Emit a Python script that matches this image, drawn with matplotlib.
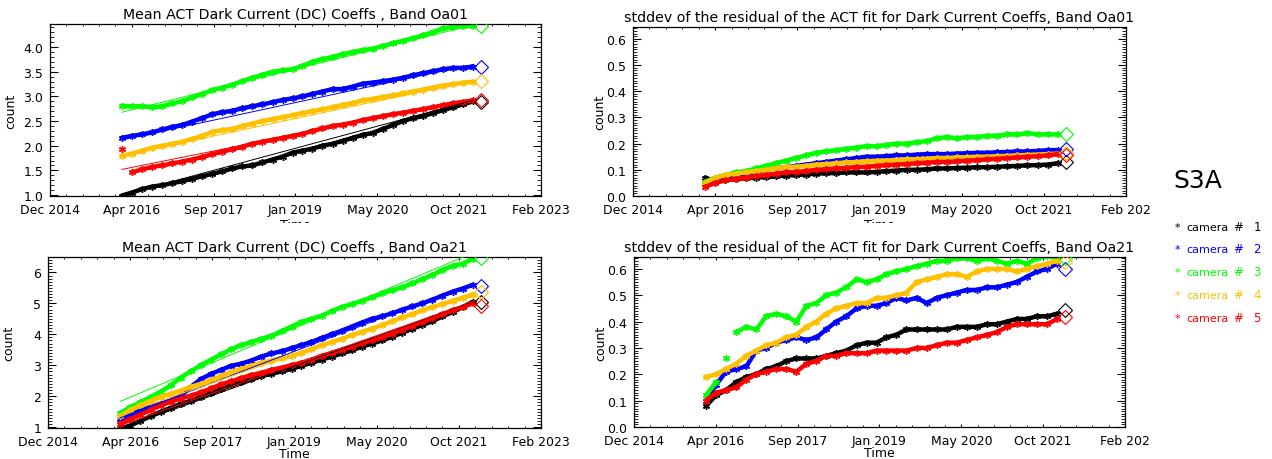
import matplotlib
matplotlib.use('Agg')
import matplotlib.pyplot as plt
from matplotlib.ticker import FixedLocator, MultipleLocator, FormatStrFormatter
from matplotlib.transforms import Bbox, TransformedBbox
import matplotlib.dates as mdates
import numpy as np
import pandas as pd

# fechas de las medidas (cada 2 meses) y del rombo final
dates = pd.date_range('2016-03-01', periods=36, freq='2MS')
end_date = pd.Timestamp('2022-02-20')
fit_dates = [pd.Timestamp('2016-03-01'), pd.Timestamp('2022-01-01')]

x_start = pd.Timestamp('2014-12-20')
x_end = pd.Timestamp('2023-02-17')
xlabels_left = ['Dec 2014', 'Apr 2016', 'Sep 2017', 'Jan 2019', 'May 2020', 'Oct 2021', 'Feb 2023']
xlabels_right = ['Dec 2014', 'Apr 2016', 'Sep 2017', 'Jan 2019', 'May 2020', 'Oct 2021', 'Feb 202']

cam_colors = ['#000000', '#0000ff', '#00ff00', '#ffc000', '#ff0000']
cam_ids = ['1', '2', '3', '4', '5']

# Mean ACT DC coeffs, Band Oa01
mean01_c1 = [0.99, 1.05, 1.12, 1.17, 1.20, 1.24, 1.28, 1.33, 1.38, 1.43, 1.48, 1.54, 1.58, 1.60, 1.66, 1.72, 1.78, 1.86,
             1.90, 1.94, 2.00, 2.04, 2.10, 2.16, 2.22, 2.26, 2.34, 2.42, 2.50, 2.56, 2.60, 2.66, 2.72, 2.78, 2.84, 2.90]
mean01_c2 = [2.16, 2.20, 2.23, 2.27, 2.33, 2.38, 2.42, 2.49, 2.56, 2.64, 2.68, 2.71, 2.76, 2.80, 2.84, 2.88, 2.93, 2.96,
             3.00, 3.05, 3.10, 3.15, 3.15, 3.20, 3.26, 3.28, 3.31, 3.34, 3.38, 3.43, 3.47, 3.51, 3.55, 3.58, 3.58, 3.60]
mean01_c3 = [2.81, 2.80, 2.80, 2.78, 2.80, 2.86, 2.90, 2.98, 3.05, 3.13, 3.18, 3.24, 3.31, 3.38, 3.44, 3.50, 3.53, 3.55,
             3.62, 3.70, 3.76, 3.80, 3.86, 3.90, 3.94, 3.97, 4.02, 4.08, 4.13, 4.18, 4.24, 4.30, 4.38, 4.41, 4.42, 4.43]
mean01_c4 = [1.80, 1.84, 1.90, 1.96, 2.00, 2.04, 2.08, 2.14, 2.20, 2.28, 2.32, 2.34, 2.40, 2.45, 2.50, 2.54, 2.58, 2.62,
             2.66, 2.70, 2.74, 2.78, 2.83, 2.87, 2.92, 2.95, 2.99, 3.02, 3.06, 3.10, 3.14, 3.18, 3.22, 3.25, 3.28, 3.30]
mean01_c5 = [1.93, 1.46, 1.52, 1.57, 1.60, 1.64, 1.68, 1.72, 1.77, 1.83, 1.88, 1.93, 1.98, 2.04, 2.08, 2.12, 2.16, 2.20,
             2.24, 2.30, 2.35, 2.40, 2.43, 2.47, 2.52, 2.56, 2.60, 2.64, 2.67, 2.71, 2.74, 2.78, 2.82, 2.86, 2.89, 2.92]
fit01_start = [1.00, 2.12, 2.68, 1.80, 1.52]
fit01_end = [2.92, 3.65, 4.45, 3.32, 2.95]
last01 = [2.88, 3.60, 4.42, 3.31, 2.93]

# stddev residual, Band Oa01
std01_c1 = [0.070, 0.055, 0.060, 0.065, 0.068, 0.070, 0.072, 0.075, 0.078, 0.080, 0.082, 0.085, 0.087, 0.088, 0.090, 0.090,
            0.090, 0.092, 0.095, 0.097, 0.100, 0.100, 0.102, 0.105, 0.105, 0.107, 0.108, 0.110, 0.110, 0.112, 0.113, 0.115,
            0.117, 0.118, 0.120, 0.125]
std01_c2 = [0.050, 0.065, 0.075, 0.080, 0.085, 0.090, 0.100, 0.105, 0.110, 0.115, 0.120, 0.125, 0.130, 0.135, 0.140, 0.145,
            0.150, 0.150, 0.152, 0.155, 0.155, 0.158, 0.160, 0.160, 0.160, 0.162, 0.163, 0.165, 0.165, 0.167, 0.168, 0.170,
            0.170, 0.172, 0.175, 0.175]
std01_c3 = [0.055, 0.070, 0.080, 0.090, 0.095, 0.105, 0.115, 0.125, 0.135, 0.145, 0.155, 0.165, 0.170, 0.175, 0.180, 0.185,
            0.190, 0.190, 0.195, 0.200, 0.200, 0.205, 0.210, 0.220, 0.225, 0.220, 0.225, 0.225, 0.230, 0.230, 0.235, 0.235,
            0.240, 0.235, 0.235, 0.235]
std01_c4 = [0.050, 0.070, 0.080, 0.085, 0.090, 0.095, 0.100, 0.105, 0.110, 0.112, 0.115, 0.120, 0.122, 0.125, 0.128, 0.130,
            0.132, 0.135, 0.135, 0.138, 0.140, 0.140, 0.142, 0.145, 0.145, 0.147, 0.148, 0.150, 0.150, 0.152, 0.153, 0.155,
            0.157, 0.158, 0.160, 0.162]
std01_c5 = [0.035, 0.050, 0.060, 0.065, 0.070, 0.075, 0.080, 0.085, 0.090, 0.092, 0.095, 0.100, 0.102, 0.105, 0.108, 0.110,
            0.112, 0.115, 0.118, 0.120, 0.122, 0.125, 0.127, 0.130, 0.130, 0.132, 0.135, 0.137, 0.140, 0.142, 0.145, 0.147,
            0.150, 0.152, 0.155, 0.160]
last_std01 = [0.130, 0.180, 0.235, 0.165, 0.155]

# Mean ACT DC coeffs, Band Oa21
mean21_c1 = [0.95, 1.05, 1.20, 1.35, 1.50, 1.62, 1.75, 1.85, 1.98, 2.10, 2.22, 2.35, 2.45, 2.55, 2.65, 2.72, 2.80, 2.88,
             2.98, 3.08, 3.18, 3.28, 3.38, 3.48, 3.60, 3.70, 3.80, 3.92, 4.05, 4.18, 4.30, 4.42, 4.58, 4.72, 4.88, 5.05]
mean21_c2 = [1.25, 1.40, 1.55, 1.65, 1.75, 1.85, 2.00, 2.30, 2.55, 2.72, 2.85, 2.98, 3.05, 3.15, 3.28, 3.38, 3.45, 3.55,
             3.65, 3.75, 3.88, 4.00, 4.12, 4.25, 4.38, 4.50, 4.58, 4.68, 4.80, 4.90, 5.00, 5.12, 5.25, 5.38, 5.48, 5.60]
mean21_c3 = [1.45, 1.65, 1.80, 1.98, 2.15, 2.35, 2.60, 2.80, 3.00, 3.18, 3.35, 3.52, 3.65, 3.75, 3.85, 3.95, 4.10, 4.25,
             4.40, 4.50, 4.60, 4.75, 4.88, 4.98, 5.08, 5.20, 5.32, 5.42, 5.52, 5.65, 5.78, 5.92, 6.08, 6.22, 6.28, 6.45]
mean21_c4 = [1.35, 1.55, 1.70, 1.85, 1.98, 2.08, 2.18, 2.30, 2.40, 2.52, 2.65, 2.78, 2.88, 2.98, 3.08, 3.15, 3.22, 3.30,
             3.40, 3.52, 3.65, 3.75, 3.85, 3.98, 4.08, 4.18, 4.30, 4.42, 4.55, 4.65, 4.78, 4.88, 4.98, 5.08, 5.18, 5.28]
mean21_c5 = [1.10, 1.25, 1.40, 1.55, 1.70, 1.82, 1.92, 2.02, 2.12, 2.25, 2.38, 2.48, 2.58, 2.68, 2.75, 2.85, 2.92, 3.00,
             3.08, 3.18, 3.30, 3.40, 3.50, 3.60, 3.72, 3.80, 3.90, 4.02, 4.15, 4.28, 4.40, 4.52, 4.65, 4.78, 4.88, 5.00]
fit21_start = [0.95, 1.30, 1.83, 1.40, 1.05]
fit21_end = [5.05, 5.65, 6.63, 5.35, 5.05]
last21 = [5.03, 5.57, 6.47, 5.37, 4.92]

# stddev residual, Band Oa21
std21_c1 = [0.08, 0.12, 0.14, 0.17, 0.19, 0.20, 0.22, 0.23, 0.25, 0.26, 0.26, 0.26, 0.27, 0.28, 0.29, 0.31, 0.32, 0.32,
            0.34, 0.35, 0.37, 0.37, 0.37, 0.37, 0.37, 0.38, 0.38, 0.38, 0.39, 0.39, 0.40, 0.41, 0.41, 0.42, 0.42, 0.43]
std21_c2 = [0.10, 0.16, 0.21, 0.22, 0.23, 0.29, 0.30, 0.32, 0.33, 0.34, 0.33, 0.34, 0.37, 0.40, 0.42, 0.45, 0.46, 0.46,
            0.47, 0.49, 0.48, 0.49, 0.47, 0.49, 0.50, 0.51, 0.52, 0.52, 0.53, 0.53, 0.54, 0.55, 0.57, 0.59, 0.60, 0.62]
std21_c3 = [0.12, 0.17, 0.26, 0.36, 0.38, 0.37, 0.42, 0.43, 0.42, 0.40, 0.46, 0.47, 0.50, 0.51, 0.53, 0.56, 0.55, 0.56,
            0.58, 0.59, 0.60, 0.61, 0.62, 0.63, 0.63, 0.64, 0.64, 0.63, 0.64, 0.63, 0.62, 0.63, 0.62, 0.64, 0.65, 0.64]
std21_c4 = [0.19, 0.20, 0.22, 0.24, 0.27, 0.29, 0.31, 0.32, 0.34, 0.35, 0.38, 0.40, 0.43, 0.45, 0.46, 0.47, 0.47, 0.49,
            0.49, 0.50, 0.51, 0.55, 0.56, 0.57, 0.58, 0.58, 0.57, 0.59, 0.60, 0.60, 0.60, 0.59, 0.60, 0.61, 0.62, 0.63]
std21_c5 = [0.10, 0.13, 0.14, 0.15, 0.18, 0.20, 0.21, 0.22, 0.22, 0.21, 0.24, 0.25, 0.27, 0.27, 0.28, 0.28, 0.28, 0.29,
            0.29, 0.29, 0.29, 0.30, 0.30, 0.31, 0.32, 0.32, 0.33, 0.34, 0.35, 0.36, 0.38, 0.39, 0.39, 0.39, 0.39, 0.41]
last_std21 = [0.445, 0.600, 0.640, 0.625, 0.418]

plt.rcParams['font.family'] = 'DejaVu Sans'

fig = plt.figure(figsize=(12.72, 4.60), dpi=100)
W, H = 1272.0, 460.0


def make_ax(l, t, r, b):
    return fig.add_axes([l / W, 1 - b / H, (r - l) / W, (b - t) / H])


def setup(ax, ylim, ymaj, ymin, fmt, xlabels, title, lab_x, lab_y):
    ax.set_xlim(mdates.date2num(x_start), mdates.date2num(x_end))
    ticks = np.linspace(mdates.date2num(x_start), mdates.date2num(x_end), 7)
    ax.xaxis.set_major_locator(FixedLocator(ticks))
    ax.xaxis.set_minor_locator(FixedLocator(np.linspace(ticks[0], ticks[-1], 31)))
    ax.set_xticklabels(xlabels)
    ax.set_ylim(*ylim)
    ax.yaxis.set_major_locator(MultipleLocator(ymaj))
    ax.yaxis.set_minor_locator(MultipleLocator(ymin))
    ax.yaxis.set_major_formatter(FormatStrFormatter(fmt))
    ax.tick_params(which='both', direction='in', top=True, right=True, labelsize=9)
    ax.tick_params(axis='x', which='major', length=2.5, pad=5)
    ax.tick_params(axis='x', which='minor', length=1.5)
    ax.tick_params(axis='y', which='major', length=6, pad=5)
    ax.tick_params(axis='y', which='minor', length=3)
    for s in ax.spines.values():
        s.set_linewidth(0.9)
    ax.set_title(title, fontsize=10.2, pad=4)
    ax.set_ylabel('count', fontsize=9)
    ax.yaxis.set_label_coords(lab_x, 0.5)
    ax.set_xlabel('Time', fontsize=9)
    ax.xaxis.set_label_coords(0.5, lab_y)


def draw(ax, series, last, span, fit_s=None, fit_e=None):
    for k, ys in enumerate(series):
        c = cam_colors[k]
        ys = np.asarray(ys)
        # el trazo se corta donde hay un salto grande (puntos sueltos en el original)
        cuts = np.where(np.abs(np.diff(ys)) > 0.12 * span)[0] + 1
        for seg in np.split(np.arange(len(ys)), cuts):
            ax.plot(dates[seg], ys[seg], color=c, lw=3.2, solid_capstyle='round',
                    solid_joinstyle='round', zorder=2)
        ax.plot(dates, ys, color=c, ls='none', marker=(6, 2, 0), ms=5, mew=1.0, zorder=2)
        if fit_s is not None:
            ax.plot(fit_dates, [fit_s[k], fit_e[k]], color=c, lw=0.7, zorder=3)
        ax.plot([end_date], [last[k]], marker='D', ms=7.5, mfc='none', mec=c, mew=0.8, ls='none', zorder=4)


ax1 = make_ax(50, 25, 541, 197)
ax2 = make_ax(633, 28, 1126, 197)
ax3 = make_ax(48, 258, 541, 429)
ax4 = make_ax(634, 258, 1125, 428)

draw(ax1, [mean01_c1, mean01_c2, mean01_c3, mean01_c4, mean01_c5], last01, 3.49, fit01_start, fit01_end)
draw(ax2, [std01_c1, std01_c2, std01_c3, std01_c4, std01_c5], last_std01, 0.645)
draw(ax3, [mean21_c1, mean21_c2, mean21_c3, mean21_c4, mean21_c5], last21, 5.53, fit21_start, fit21_end)
draw(ax4, [std21_c1, std21_c2, std21_c3, std21_c4, std21_c5], last_std21, 0.645)

setup(ax1, (0.98, 4.47), 0.5, 0.1, '%.1f', xlabels_left,
      'Mean ACT Dark Current (DC) Coeffs , Band Oa01', -0.066, -0.13)
setup(ax2, (0.0, 0.645), 0.1, 0.01, '%.1f', xlabels_right,
      'stddev of the residual of the ACT fit for Dark Current Coeffs, Band Oa01', -0.054, -0.13)
setup(ax3, (0.97, 6.5), 1, 0.1, '%d', xlabels_left,
      'Mean ACT Dark Current (DC) Coeffs , Band Oa21', -0.066, -0.11)
setup(ax4, (0.0, 0.645), 0.1, 0.01, '%.1f', xlabels_right,
      'stddev of the residual of the ACT fit for Dark Current Coeffs, Band Oa21', -0.054, -0.11)

# la etiqueta "Time" de arriba queda cortada por el panel de abajo
clip = TransformedBbox(Bbox([[0, 1 - 224 / H], [1, 1]]), fig.transFigure)
for ax in (ax1, ax2):
    ax.xaxis.label.set_clip_box(clip)
    ax.xaxis.label.set_clip_on(True)

fig.text(1198 / W, 1 - 181 / H, 'S3A', fontsize=18, ha='center', va='center')
rows_y = [228, 250, 273, 296, 319]
for k in range(5):
    y = 1 - rows_y[k] / H
    c = cam_colors[k]
    fig.text(1177 / W, y, '*', color=c, fontsize=8, ha='center', va='center')
    fig.text(1186 / W, y, 'camera', color=c, fontsize=8, ha='left', va='center')
    fig.text(1238 / W, y, '#', color=c, fontsize=8.5, ha='center', va='center')
    fig.text(1257 / W, y, cam_ids[k], color=c, fontsize=8.5, ha='center', va='center')

fig.savefig('out.png', dpi=100)
